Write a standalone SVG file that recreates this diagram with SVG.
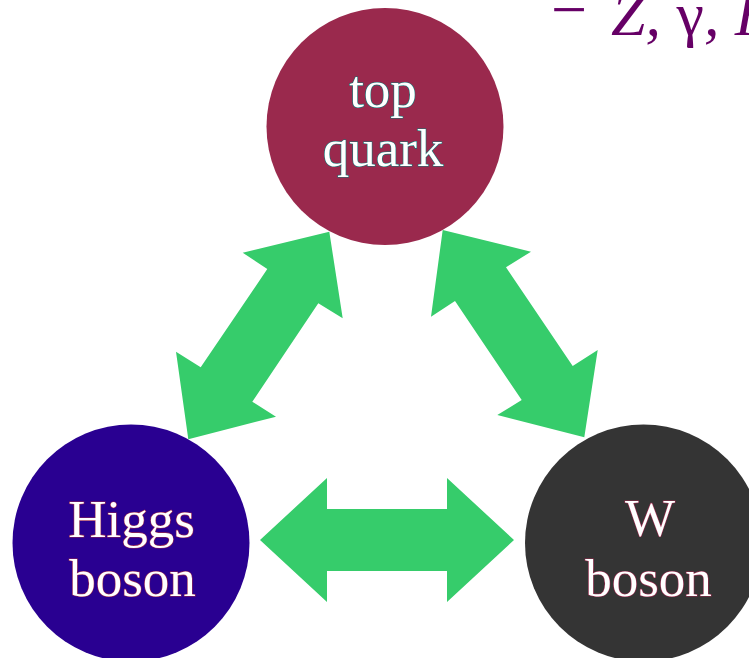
<svg xmlns="http://www.w3.org/2000/svg" width="749" height="658" viewBox="0 0 749 658">
<style>
  .lbl { font-family: "Liberation Serif", "Times New Roman", serif; font-size: 53px; fill: #ffffff; text-anchor: middle; stroke-width: 1.2px; paint-order: stroke fill; }
  .lt { stroke: #0f7a78; }
  .lm { stroke: #9b2a4e; }
  .arrow { fill: #36cc6b; }
  .note { font-family: "Liberation Serif", "Times New Roman", serif; fill: #660066; }
</style>
<rect width="749" height="658" fill="#ffffff"/>
<g id="note">
  <text class="note" x="551" y="31" font-size="64">−</text>
  <text class="note" x="611" y="35" font-size="62" font-style="italic">Z, <tspan font-style="normal">γ</tspan>, H</text>
</g>
<g id="node-top">
  <circle cx="385" cy="126.5" r="118.5" fill="#9a294d"/>
  <text class="lbl lt" x="383" y="106.5">top</text>
  <text class="lbl lt" x="383" y="165.5">quark</text>
</g>
<g id="node-higgs">
  <circle cx="131" cy="543" r="118.5" fill="#290091"/>
  <text class="lbl lm" x="131.5" y="537">Higgs</text>
  <text class="lbl lm" x="132.5" y="596">boson</text>
</g>
<g id="node-w">
  <circle cx="643.5" cy="543" r="118.5" fill="#343434"/>
  <text class="lbl lm" x="650" y="536">W</text>
  <text class="lbl lm" x="648.5" y="595.5">boson</text>
</g>
<g id="connectors">
  <polygon class="arrow" points="329.3,231.7 342.7,318.3 318.3,303.3 252.3,401.7 276,416.7 188.3,439.3 176,351.7 200.7,367.3 267.3,269 242.7,252.7"/>
  <polygon class="arrow" points="442.7,230 531,251.7 506,267.3 572.7,366 597.7,350 584.3,437.3 497.3,415 521.7,400 455,301 431,316.7"/>
  <polygon class="arrow" points="260,540 327,478 327,509 447,509 447,478 514,540 447,602 447,571 327,571 327,602"/>
</g>
</svg>
